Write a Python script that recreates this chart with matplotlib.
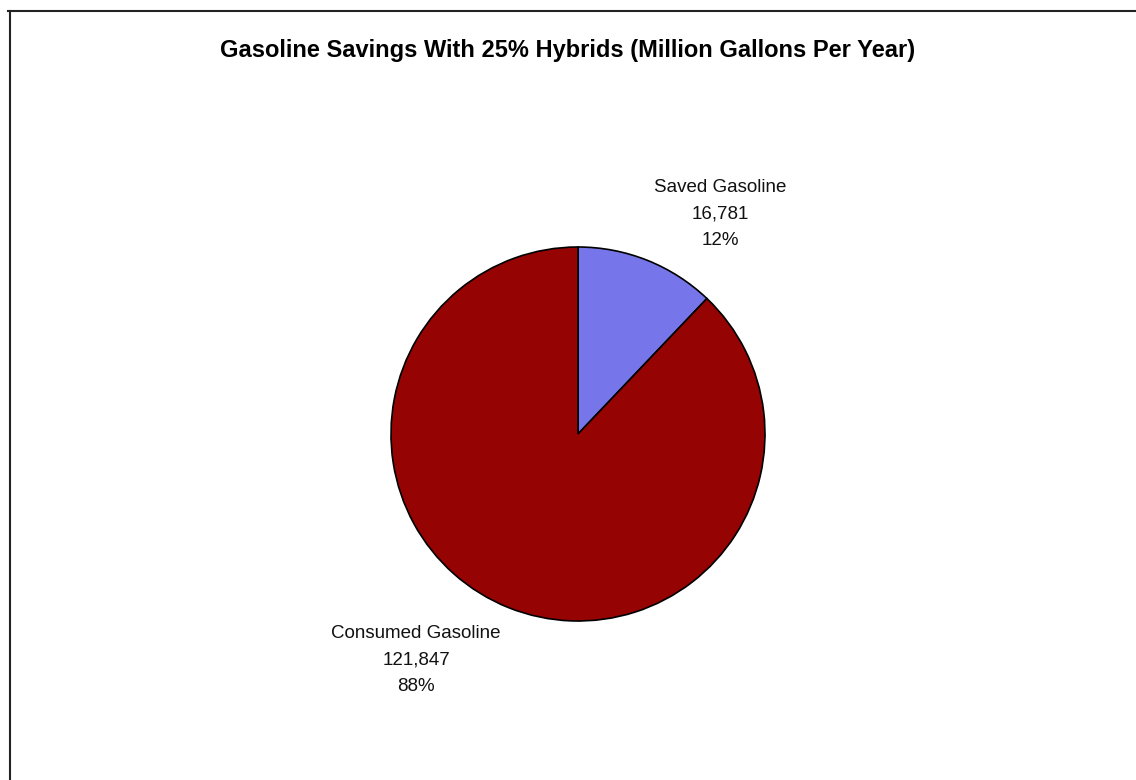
import numpy as np
import matplotlib
matplotlib.use('Agg')
import matplotlib.pyplot as plt
from matplotlib.lines import Line2D

# ── Data ──
labels = ["Saved Gasoline", "Consumed Gasoline"]
gallons = [16781, 121847]          # million gallons per year
colors = ["#7676EA", "#960303"]
title = "Gasoline Savings With 25% Hybrids (Million Gallons Per Year)"

W, H = 1136, 780
fig = plt.figure(figsize=(W / 100, H / 100), dpi=100)
fig.patch.set_facecolor("white")

# axes span the whole canvas, one unit per pixel
ax = fig.add_axes([0, 0, 1, 1])
cx, cy, r = 578, H - 434, 187
ax.pie(gallons, colors=colors, startangle=90, counterclock=False,
       center=(cx, cy), radius=r, frame=True,
       wedgeprops=dict(edgecolor="black", linewidth=1.2))
ax.set_xlim(0, W)
ax.set_ylim(0, H)
ax.set_aspect("equal")
ax.axis("off")

total = sum(gallons)
pcts = [round(v / total * 100) for v in gallons]
font = "Liberation Sans"

# ── Slice labels ──
label_pos = [(720, H - 214), (416, H - 660)]
for lab, val, pct, (lx, ly) in zip(labels, gallons, pcts, label_pos):
    ax.text(lx, ly, f"{lab}\n{val:,}\n{pct}%", ha="center", va="center",
            fontsize=13.5, family=font, color="#111111", linespacing=1.72)

# ── Title ──
fig.text(0.5, 1 - 51 / H, title, ha="center", va="center",
         fontsize=17, fontweight="bold", family=font, color="black")

# ── Chart border (top and left edge) ──
fig.add_artist(Line2D([8 / W, 1], [1 - 11 / H, 1 - 11 / H],
                      color="#222222", linewidth=1.5))
fig.add_artist(Line2D([10 / W, 10 / W], [0, 1 - 11 / H],
                      color="#222222", linewidth=1.5))

plt.savefig("out.png", dpi=100)
plt.close()
